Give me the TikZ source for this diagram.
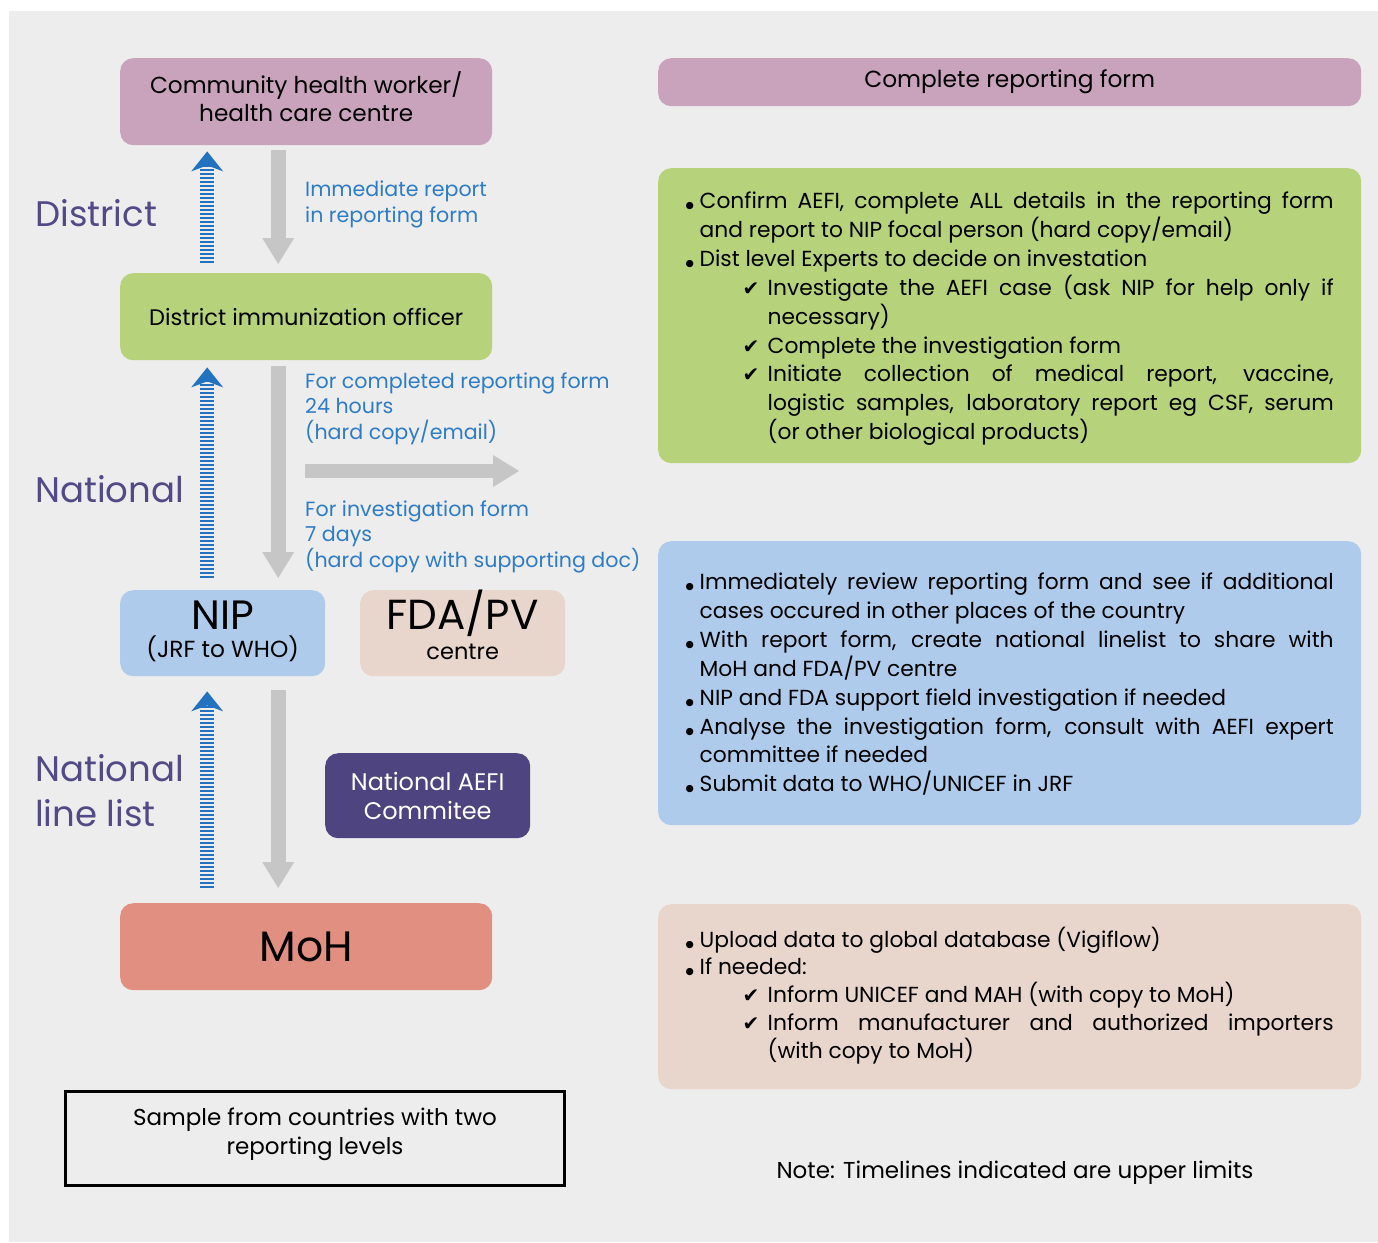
\documentclass[tikz,border=0pt]{standalone}
\usepackage{fontspec}
\setmainfont{Poppins}
\newfontfamily\dejavu{DejaVu Sans}
\usetikzlibrary{arrows.meta,calc}
\definecolor{bgc}{HTML}{EDEDED}
\definecolor{pinkc}{HTML}{C9A3BB}
\definecolor{greenc}{HTML}{B6D37B}
\definecolor{bluec}{HTML}{AECBEC}
\definecolor{beigec}{HTML}{E8D6CD}
\definecolor{purplec}{HTML}{4E4580}
\definecolor{salmonc}{HTML}{E08F80}
\definecolor{levc}{HTML}{524A87}
\definecolor{btext}{HTML}{2E7CC6}
\definecolor{arrgray}{HTML}{C6C6C6}
\definecolor{arrblue}{HTML}{2372BF}
\newcommand{\bul}{\par\noindent\hangindent=14pt\hangafter=1\makebox[14pt][l]{\dejavu\fontsize{9.5}{9.5}\selectfont ●}}
\newcommand{\chk}{\par\noindent\hangindent=82pt\hangafter=1\hspace*{57pt}\makebox[25pt][l]{\dejavu\fontsize{20}{20}\selectfont ✔}}
\newcommand{\listsetup}{\hyphenpenalty=10000\exhyphenpenalty=10000\tolerance=10000\emergencystretch=20pt}
\newcommand{\lift}[2]{\raisebox{#1}[\height][\depth]{\begin{tabular}{@{}c@{}}#2\end{tabular}}}
\newcommand{\dpt}[1]{\rule[-#1]{0pt}{1pt}}
\tikzset{
  box/.style={rounded corners=13pt, inner sep=0pt, align=center, anchor=north west,
    font=\fontsize{22.5}{28}\selectfont},
  listbox/.style={rounded corners=13pt, inner sep=0pt, anchor=north west,
    minimum width=703pt, text width=648pt, align=justify,
    font=\fontsize{21.8}{28.9}\selectfont\listsetup},
  lvl/.style={text=levc, font=\fontsize{35.5}{45}\selectfont, anchor=base west, align=left, inner sep=0pt},
  bnote/.style={text=btext, font=\fontsize{20.6}{25.5}\selectfont, anchor=base west, align=left, inner sep=0pt},
  grayarrow/.style={draw=arrgray, line width=15pt,
    -{Triangle[length=26pt,width=32pt,line width=0pt]}},
  bluearrow/.style={draw=arrblue, line width=14pt, dash pattern=on 2pt off 2pt,
    -{Stealth[length=20pt,width=32pt,inset=6pt,line width=0pt]}}
}
\begin{document}
\begin{tikzpicture}[x=1pt,y=-1pt]
\useasboundingbox (0,0) rectangle (1378,1242);
\fill[white] (0,0) rectangle (1378,1242);
\fill[bgc] (9,11) rectangle (1378,1242);

% left column boxes
\node[box, fill=pinkc, minimum width=372pt, minimum height=87pt,
  font=\fontsize{23.2}{28}\selectfont] (chw) at (120,58)
  {\lift{0.5pt}{Community health worker/\\health care centre}};
\node[box, fill=greenc, minimum width=372pt, minimum height=87pt] (dio) at (120,273)
  {District immunization officer};
\node[box, fill=bluec, minimum width=205pt, minimum height=86pt,
  font=\fontsize{23.3}{28}\selectfont] (nip) at (120,590)
  {{\fontsize{41}{41}\selectfont NIP}\\[0pt](JRF to WHO)\dpt{9pt}};
\node[box, fill=beigec, minimum width=205pt, minimum height=86pt] (fda) at (360,590)
  {{\fontsize{42}{42}\selectfont FDA\smash{/}PV}\\[2pt]centre\dpt{6pt}};
\node[box, fill=purplec, text=white, minimum width=205pt, minimum height=85pt,
  font=\fontsize{24}{29}\selectfont] (aefi) at (325,753)
  {National AEFI\\Commitee};
\node[box, fill=salmonc, minimum width=372pt, minimum height=87pt,
  font=\fontsize{42.5}{50}\selectfont] (moh) at (120,903) {MoH};

% level labels
\node[lvl] (ldist) at (35,226) {District};
\node[lvl] (lnat) at (35,502) {National};
\node[lvl] (lnll) at (35,826) {National\\line list};

% blue notes
\node[bnote] (n1) at (305,222) {Immediate report\\in reporting form};
\node[bnote] (n2) at (305,439) {For completed reporting form\\24 hours\\(hard copy/email)};
\node[bnote] (n3) at (305,567) {For investigation form\\7 days\\(hard copy with supporting doc)};

% gray arrows
\draw[grayarrow] ($(chw.south)+(-28,5)$) -- ($(dio.north)+(-28,-9)$);
\draw[grayarrow] ($(dio.south)+(-28,6)$) -- ($(dio.south |- nip.north)+(-28,-12)$);
\draw[grayarrow] ($(moh.north |- nip.south)+(-28,14)$) -- ($(moh.north)+(-28,-15)$);
\coordinate (h1) at (305,471);
\coordinate (h2) at (519,471);
\draw[grayarrow, line width=14pt] (h1) -- (h2);

% blue dashed arrows
\draw[bluearrow] ($(dio.north)+(-99,-10)$) -- ($(chw.south)+(-99,6)$);
\draw[bluearrow] ($(dio.south |- nip.north)+(-99,-12)$) -- ($(dio.south)+(-99,7)$);
\draw[bluearrow] ($(moh.north)+(-99,-15)$) -- ($(moh.north |- nip.south)+(-99,15)$);

% right column
\node[box, fill=pinkc, minimum width=703pt, minimum height=48pt,
  font=\fontsize{23.3}{28}\selectfont] (crf) at (658,58)
  {Complete reporting form};
\node[listbox, fill=greenc, minimum height=295pt] (gl) at (658,168) {%
\bul Confirm AEFI, complete ALL details in the reporting form\linebreak and report to NIP focal person (hard copy/email)
\bul Dist level Experts to decide on investation
\chk Investigate the AEFI case (ask NIP for help only if\linebreak necessary)
\chk Complete the investigation form
\chk Initiate collection of medical report, vaccine,\linebreak logistic samples, laboratory report eg CSF, serum\linebreak (or other biological products)\dpt{12pt}\par};
\node[listbox, fill=bluec, minimum height=284pt] (bl) at (658,541) {%
\bul Immediately review reporting form and see if additional\linebreak cases occured in other places of the country
\bul With report form, create national linelist to share with\linebreak MoH and FDA/PV centre
\bul NIP and FDA support field investigation if needed
\bul Analyse the investigation form, consult with AEFI expert\linebreak committee if needed
\bul Submit data to WHO/UNICEF in JRF\dpt{14pt}\par};
\node[listbox, fill=beigec, minimum height=185pt,
  font=\fontsize{21.8}{27.8}\selectfont\listsetup] (el) at (658,904) {%
\bul Upload data to global database (Vigiflow)
\bul If needed:
\chk Inform UNICEF and MAH (with copy to MoH)
\chk Inform manufacturer and authorized importers\linebreak (with copy to MoH)\dpt{16pt}\par};

% sample box and note
\node[draw=black, line width=3pt, minimum width=499pt, minimum height=94pt, inner sep=0pt,
  align=center, font=\fontsize{23}{29}\selectfont] (sample) at (315,1138.5)
  {\lift{4pt}{Sample from countries with two\\reporting levels}};
\node[font=\fontsize{23}{28}\selectfont, inner sep=0pt] (note) at (1015,1173)
  {Note: Timelines indicated are upper limits};
\end{tikzpicture}
\end{document}
